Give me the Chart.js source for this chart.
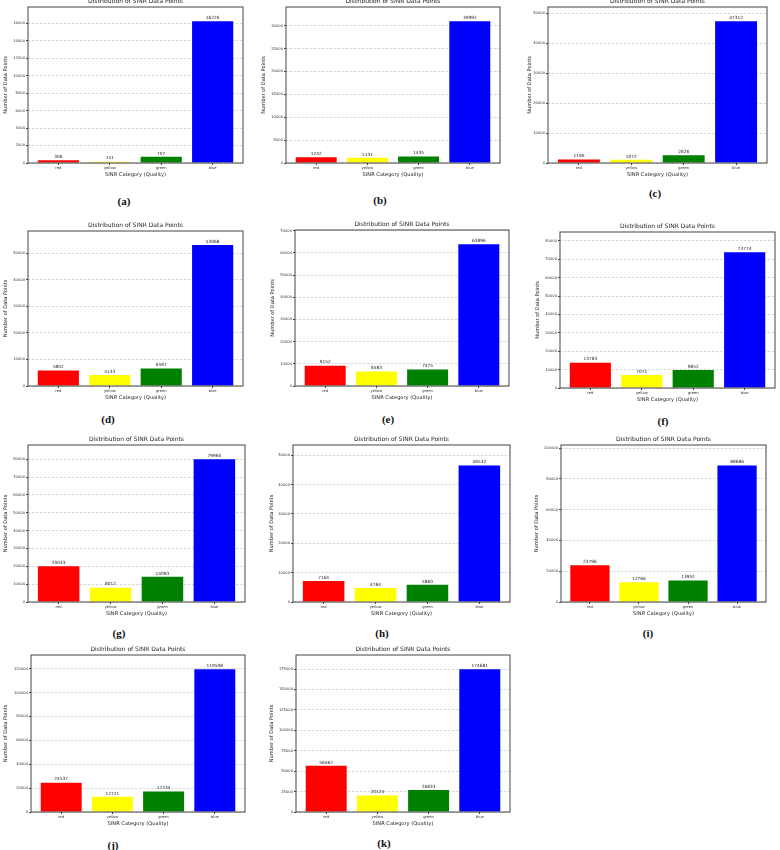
<!DOCTYPE html>
<html>
<head>
<meta charset="utf-8">
<script src="https://cdn.jsdelivr.net/npm/chart.js@4.4.1/dist/chart.umd.min.js"></script>
<style>
  html, body { margin: 0; padding: 0; background: #fff; }
  #page { position: relative; width: 780px; height: 850px; overflow: hidden; background: #fff; }
  .panel { position: absolute; }
  .cap { position: absolute; font: bold 11px "Liberation Serif", serif; color: #111; transform: translate(-50%, -50%); }
</style>
</head>
<body>
<div id="page"></div>
<script>
// data, one value per panel (a)..(k)
const panels = ['(a)', '(b)', '(c)', '(d)', '(e)', '(f)', '(g)', '(h)', '(i)', '(j)', '(k)'];
const categories = ['red', 'yellow', 'green', 'blue'];
const barColors = ['#ff0000', '#ffff00', '#008000', '#0000ff'];

const redCounts    = [306, 1242, 1190, 5802, 9152, 13783, 20033, 7164, 23796, 24537, 56462];
const yellowCounts = [151, 1131, 1072, 4133, 6583, 7071, 8012, 4784, 12766, 12721, 20124];
const greenCounts  = [707, 1435, 2626, 6597, 7475, 9852, 14093, 5860, 13952, 17234, 26833];
const blueCounts   = [16226, 30992, 47312, 53068, 63896, 73774, 79960, 46532, 88686, 119508, 174681];

// y axis top and tick step of each panel
const yMax  = [17850, 34090, 52040, 58375, 70290, 84840, 87960, 53510, 101990, 131460, 192150];
const yStep = [2000, 5000, 10000, 10000, 10000, 10000, 10000, 10000, 20000, 20000, 25000];

// layout: axes box [left, top, right, bottom], y-title x, caption centre
const axesBox = [
  [28, 7, 243, 163], [286, 7, 500, 163], [548, 7, 767, 163],
  [28, 231, 243, 386], [295, 230, 509, 386], [560, 232, 775, 388],
  [28, 445, 245, 602], [293, 445, 510, 602], [561, 445, 766, 602],
  [31, 655, 245, 812], [296, 655, 510, 812]
];
const yTitleX = [6, 264, 530, 6, 273, 538, 6, 272, 537, 6, 272];
const captionPos = [
  [124, 201], [380, 200], [655, 193],
  [108, 419], [388, 419], [663, 421],
  [119, 633], [382, 633], [648, 633],
  [113, 845], [384, 843]
];

const FONT = "'DejaVu Sans', sans-serif";
const TITLE_H = 9;
const X_H = 15;

const framePlugin = {
  id: 'frame',
  afterDraw(chart) {
    const a = chart.chartArea;
    const ctx = chart.ctx;
    ctx.save();
    ctx.strokeStyle = '#444';
    ctx.lineWidth = 1;
    ctx.strokeRect(a.left, a.top, a.right - a.left, a.bottom - a.top);
    ctx.restore();
  }
};

const valueLabels = {
  id: 'valueLabels',
  afterDatasetsDraw(chart) {
    const ctx = chart.ctx;
    const meta = chart.getDatasetMeta(0);
    ctx.save();
    ctx.font = '4.3px ' + FONT;
    ctx.fillStyle = '#222';
    ctx.textAlign = 'center';
    ctx.textBaseline = 'bottom';
    meta.data.forEach((bar, i) => {
      const v = chart.data.datasets[0].data[i].y;
      ctx.fillText(String(v), bar.x, bar.y - 1.2);
    });
    ctx.restore();
  }
};

const page = document.getElementById('page');

panels.forEach((name, p) => {
  const [L, T, R, B] = axesBox[p];
  const left = yTitleX[p] - 3;
  const top = T - TITLE_H;
  const yW = L - left;
  const w = R - left + 2;
  const h = TITLE_H + (B - T) + X_H;

  const div = document.createElement('div');
  div.className = 'panel';
  div.style.left = left + 'px';
  div.style.top = top + 'px';
  div.style.width = w + 'px';
  div.style.height = h + 'px';
  const canvas = document.createElement('canvas');
  canvas.width = w;
  canvas.height = h;
  canvas.style.width = w + 'px';
  canvas.style.height = h + 'px';
  div.appendChild(canvas);
  page.appendChild(div);

  const counts = [redCounts[p], yellowCounts[p], greenCounts[p], blueCounts[p]];

  new Chart(canvas, {
    type: 'bar',
    data: {
      datasets: [{
        data: counts.map((v, i) => ({ x: i, y: v })),
        backgroundColor: barColors,
        borderWidth: 0,
        barPercentage: 1,
        categoryPercentage: 0.8
      }]
    },
    options: {
      responsive: false,
      animation: false,
      devicePixelRatio: 1,
      layout: { padding: { left: 0, right: 2, top: 0, bottom: 0 } },
      scales: {
        x: {
          type: 'linear',
          offset: false,
          min: -0.59,
          max: 3.59,
          afterBuildTicks: s => { s.ticks = categories.map((c, i) => ({ value: i })); },
          afterFit: s => { s.height = X_H; },
          ticks: {
            autoSkip: false,
            maxRotation: 0,
            padding: 0.8,
            color: '#333',
            font: { size: 3.7, family: FONT },
            callback: v => categories[v]
          },
          grid: { display: true, offset: false, drawOnChartArea: false, drawTicks: true, tickLength: 2, tickColor: '#444' },
          border: { display: false },
          title: {
            display: true,
            text: 'SINR Category (Quality)',
            color: '#222',
            padding: 0,
            font: { size: 5.1, family: FONT }
          }
        },
        y: {
          min: 0,
          max: yMax[p],
          afterBuildTicks: s => {
            const t = [];
            for (let v = 0; v <= yMax[p]; v += yStep[p]) t.push({ value: v });
            s.ticks = t;
          },
          afterFit: s => { s.width = yW; },
          ticks: {
            autoSkip: false,
            padding: 1,
            color: '#333',
            font: { size: 3.7, family: FONT },
            callback: v => String(v)
          },
          grid: { color: 'rgba(0,0,0,0.15)', tickLength: 2, tickColor: '#444', tickBorderDash: [] },
          border: { display: false, dash: [2.5, 1.5] },
          title: {
            display: true,
            text: 'Number of Data Points',
            color: '#222',
            padding: 0,
            font: { size: 5.1, family: FONT }
          }
        }
      },
      plugins: {
        legend: { display: false },
        tooltip: { enabled: false },
        title: {
          display: true,
          text: 'Distribution of SINR Data Points',
          fullSize: false,
          color: '#222',
          padding: { top: 0, bottom: 1.8 },
          font: { size: 6, weight: 'normal', family: FONT }
        }
      }
    },
    plugins: [framePlugin, valueLabels]
  });

  const cap = document.createElement('div');
  cap.className = 'cap';
  cap.textContent = name;
  cap.style.left = captionPos[p][0] + 'px';
  cap.style.top = captionPos[p][1] + 'px';
  page.appendChild(cap);
});
</script>
</body>
</html>
